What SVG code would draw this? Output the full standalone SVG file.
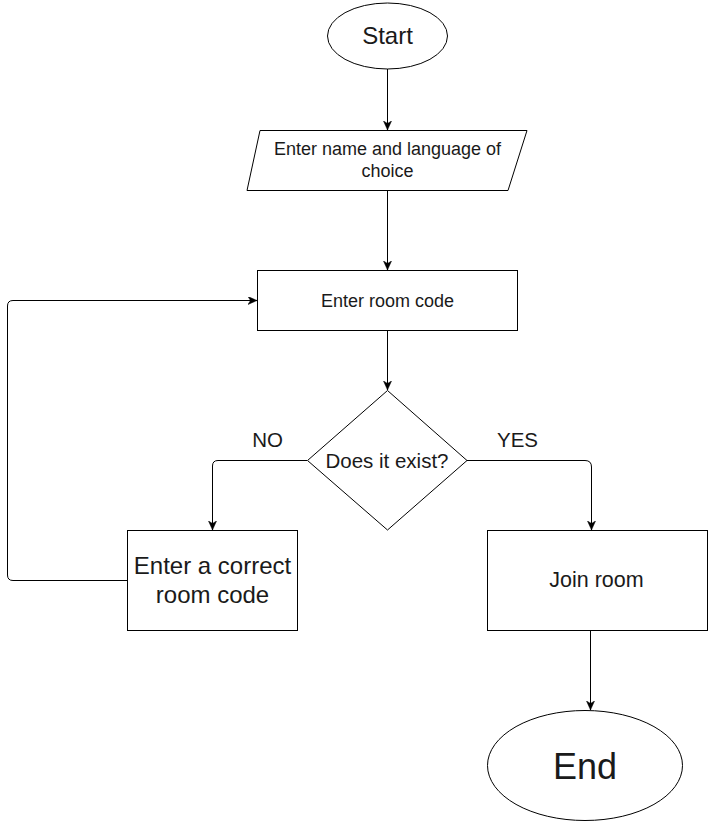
<svg xmlns="http://www.w3.org/2000/svg" width="708" height="821" viewBox="0 0 708 821">
<style>
.shape{fill:#ffffff;stroke:#000000;stroke-width:1}
.edge{fill:none;stroke:#000000;stroke-width:1}
.t{font-family:"Liberation Sans",Arial,sans-serif;fill:#1a1a1a;text-anchor:middle}
</style>
<defs>
<marker id="arr" markerUnits="userSpaceOnUse" markerWidth="10" markerHeight="10" refX="9" refY="4" orient="auto">
<path d="M0,0 L9,4 L0,8 L2.5,4 Z" fill="#000000" stroke="#000000" stroke-width="0.5"/>
</marker>
</defs>
<rect x="0" y="0" width="708" height="821" fill="#ffffff"/>
<g id="connectors">
<path class="edge" d="M387.5,69 L387.5,130" marker-end="url(#arr)"/>
<path class="edge" d="M387.5,190 L387.5,270" marker-end="url(#arr)"/>
<path class="edge" d="M387.5,330 L387.5,390" marker-end="url(#arr)"/>
<path class="edge" d="M307,460.5 L218,460.5 Q212.5,460.5 212.5,466 L212.5,530" marker-end="url(#arr)"/>
<path class="edge" d="M467,460.5 L585,460.5 Q591.5,460.5 591.5,467 L591.5,530" marker-end="url(#arr)"/>
<path class="edge" d="M127.5,580.5 L13,580.5 Q7.5,580.5 7.5,575 L7.5,306 Q7.5,300.5 13,300.5 L257,300.5" marker-end="url(#arr)"/>
<path class="edge" d="M590.5,630 L590.5,710" marker-end="url(#arr)"/>
</g>
<g id="start">
<ellipse class="shape" cx="387.5" cy="36" rx="60" ry="33"/>
<text class="t" x="387.5" y="44" font-size="24">Start</text>
</g>
<g id="enter-name">
<polygon class="shape" points="260,130.5 527,130.5 508,190.5 247,190.5"/>
<text class="t" x="387.5" y="155" font-size="18">Enter name and language of</text>
<text class="t" x="387.5" y="176.5" font-size="18">choice</text>
</g>
<g id="enter-room-code">
<rect class="shape" x="257.5" y="270.5" width="260" height="60"/>
<text class="t" x="387.5" y="306.5" font-size="18">Enter room code</text>
</g>
<g id="does-it-exist">
<polygon class="shape" points="387.5,390.5 467,460.5 387.5,530 307.5,460.5"/>
<text class="t" x="387" y="467.5" font-size="20.5">Does it exist?</text>
</g>
<g id="label-no">
<text class="t" x="267.5" y="447" font-size="20.5">NO</text>
</g>
<g id="label-yes">
<text class="t" x="517.5" y="447" font-size="20.5">YES</text>
</g>
<g id="enter-correct">
<rect class="shape" x="127.5" y="530.5" width="170" height="100"/>
<text class="t" x="212.5" y="573.5" font-size="24">Enter a correct</text>
<text class="t" x="212.5" y="602.5" font-size="24">room code</text>
</g>
<g id="join-room">
<rect class="shape" x="487.5" y="530.5" width="220" height="100"/>
<text class="t" x="596.5" y="587" font-size="21.5">Join room</text>
</g>
<g id="end">
<ellipse class="shape" cx="585" cy="765.5" rx="97.5" ry="55"/>
<text class="t" x="585" y="778.5" font-size="36">End</text>
</g>
</svg>
